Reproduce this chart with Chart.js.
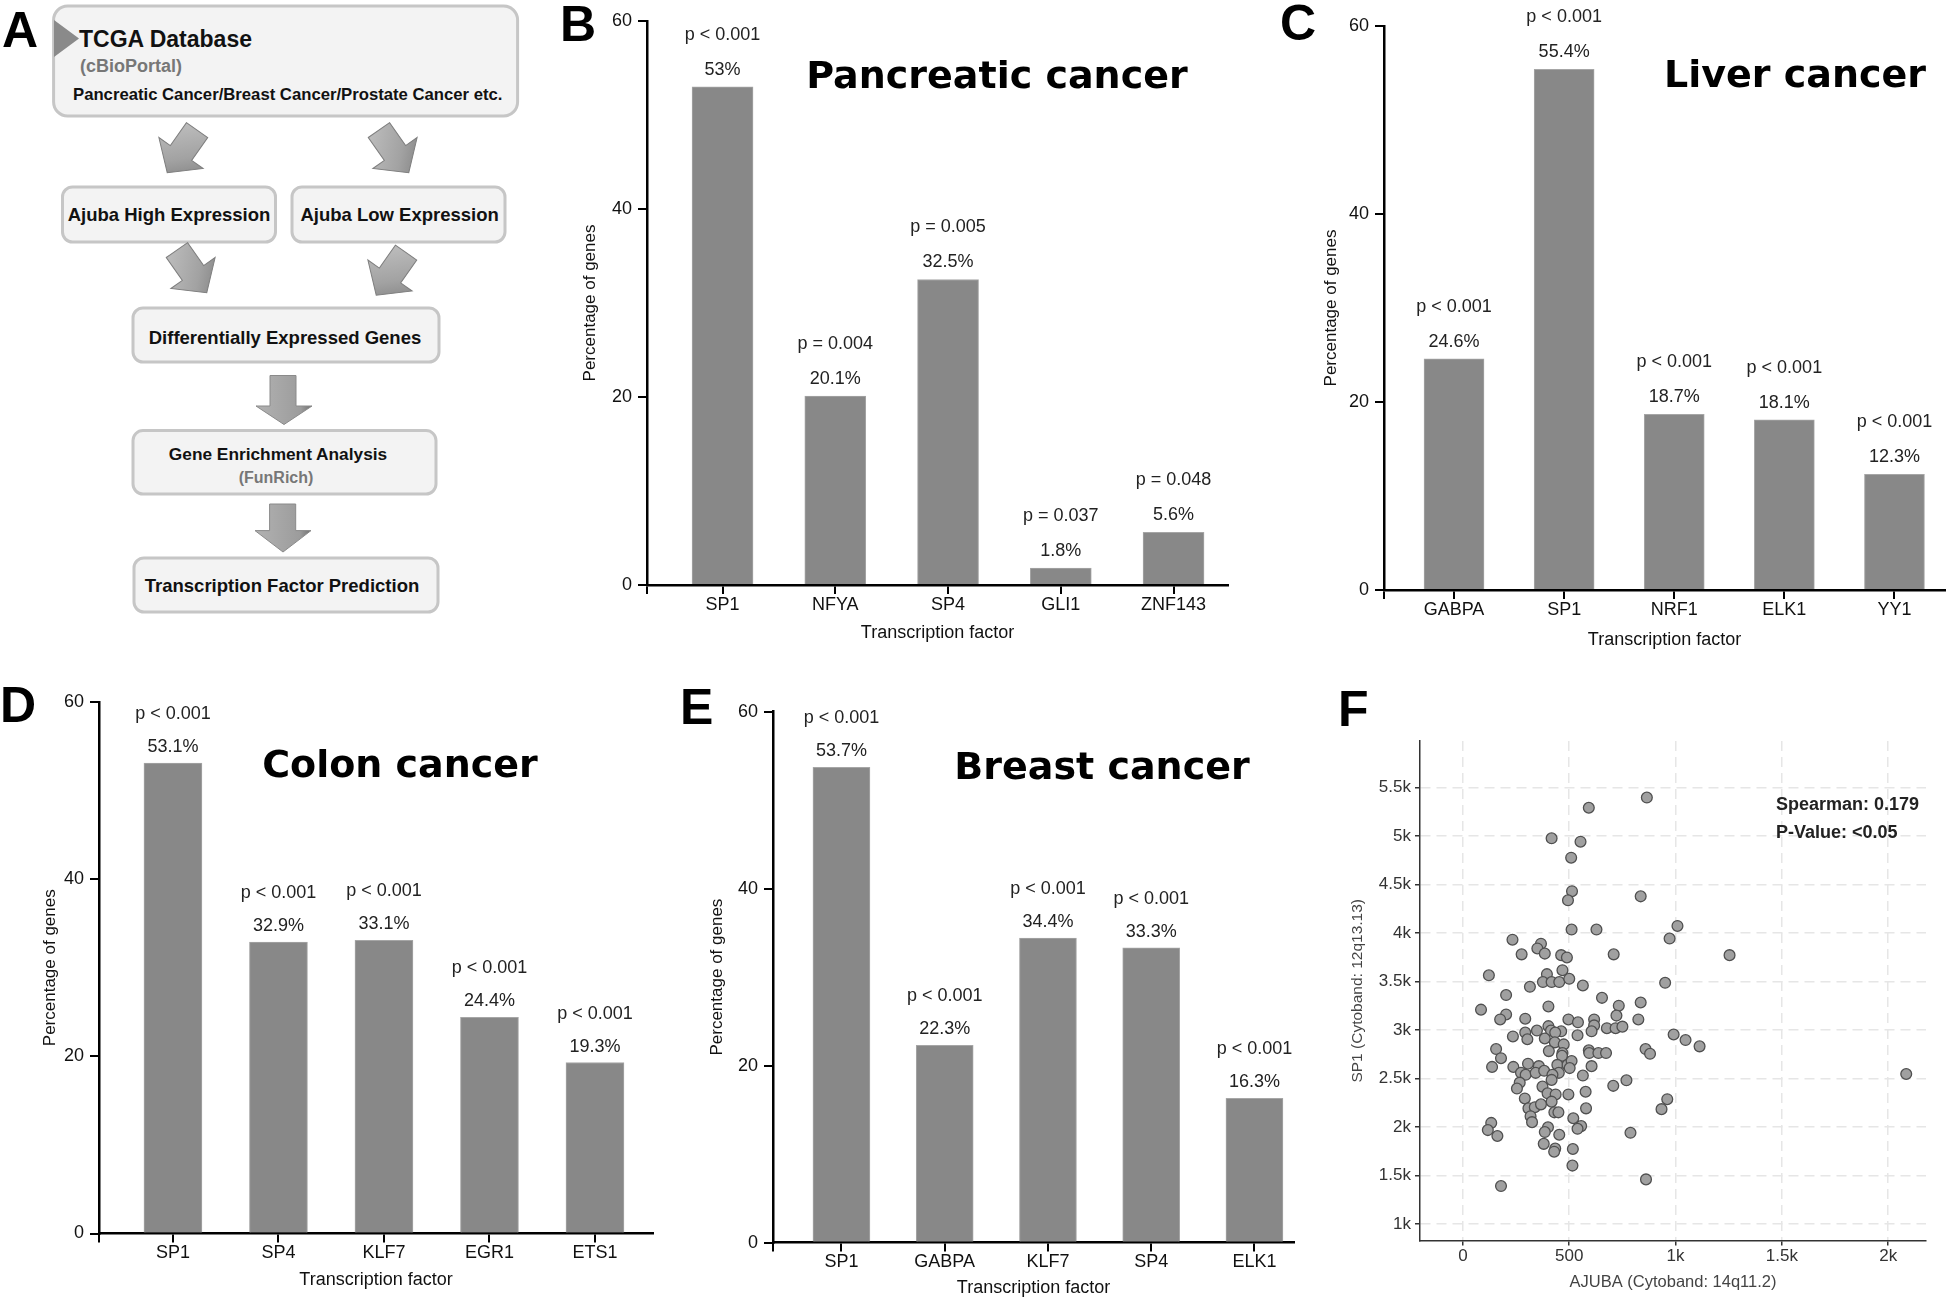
<!DOCTYPE html>
<html>
<head>
<meta charset="utf-8">
<script src="https://cdn.jsdelivr.net/npm/chart.js@4.4.0/dist/chart.umd.min.js"></script>
<style>
body{margin:0;background:#fff;}
#fig{position:relative;width:1946px;height:1299px;overflow:hidden;background:#fff;}
canvas{position:absolute;}
.tag{position:absolute;font:bold 50px "Liberation Sans",Arial,sans-serif;line-height:50px;color:#000;}
.head{position:absolute;width:400px;text-align:center;font:bold 38px "DejaVu Sans",Verdana,sans-serif;line-height:38px;color:#000;white-space:nowrap;}
.note{position:absolute;font:bold 18px "Liberation Sans",Arial,sans-serif;line-height:18px;color:#222;white-space:nowrap;}
</style>
</head>
<body>
<div id="fig">

<svg width="560" height="640" style="position:absolute;left:0;top:0" font-family="Liberation Sans, Arial, sans-serif" font-weight="bold">
  <defs>
    <linearGradient id="ag" x1="0" y1="0" x2="1" y2="1">
      <stop offset="0" stop-color="#c4c4c4"/><stop offset="0.6" stop-color="#a2a2a2"/><stop offset="1" stop-color="#7a7a7a"/>
    </linearGradient>
    <linearGradient id="dg" x1="0" y1="0" x2="1" y2="0">
      <stop offset="0" stop-color="#b2b2b2"/><stop offset="0.8" stop-color="#9c9c9c"/><stop offset="1" stop-color="#707070"/>
    </linearGradient>
    <path id="diag" d="M-13,-28 L13,-28 L13,0 L27,0 L0,24 L-27,0 L-13,0 Z" fill="url(#ag)" stroke="#7e7e7e" stroke-width="1"/>
  </defs>
  <!-- top box -->
  <rect x="53.6" y="6" width="464" height="110" rx="14" fill="#f3f3f3" stroke="#c6c6c6" stroke-width="3"/>
  <polygon points="54,20 79,38.5 54,57" fill="#8a8a8a"/>
  <text x="79" y="47" font-size="23" fill="#111">TCGA Database</text>
  <text x="80" y="71.5" font-size="18" fill="#777">(cBioPortal)</text>
  <text x="73" y="100" font-size="16.7" fill="#111">Pancreatic Cancer/Breast Cancer/Prostate Cancer etc.</text>
  <!-- diagonal arrows row 1 -->
  <use href="#diag" transform="translate(181,153) rotate(35)"/>
  <use href="#diag" transform="translate(395,153) rotate(-35)"/>
  <!-- ajuba boxes -->
  <rect x="62.5" y="187" width="213" height="55" rx="10" fill="#f3f3f3" stroke="#c6c6c6" stroke-width="3"/>
  <text x="169" y="220.6" font-size="18.5" fill="#111" text-anchor="middle">Ajuba High Expression</text>
  <rect x="292" y="187" width="213" height="55" rx="10" fill="#f3f3f3" stroke="#c6c6c6" stroke-width="3"/>
  <text x="399.6" y="220.6" font-size="18.5" fill="#111" text-anchor="middle">Ajuba Low Expression</text>
  <!-- diagonal arrows row 2 -->
  <use href="#diag" transform="translate(193,273) rotate(-35)"/>
  <use href="#diag" transform="translate(390,275.5) rotate(35)"/>
  <!-- DEG -->
  <rect x="133" y="308" width="306" height="54" rx="10" fill="#f3f3f3" stroke="#c6c6c6" stroke-width="3"/>
  <text x="285" y="343.6" font-size="18.5" fill="#111" text-anchor="middle">Differentially Expressed Genes</text>
  <path d="M270,375.5 L296,375.5 L296,406 L312,406 L284,424.5 L256,406 L270,406 Z" fill="url(#dg)" stroke="#8a8a8a" stroke-width="1"/>
  <!-- GEA -->
  <rect x="133" y="430.6" width="303" height="63.4" rx="10" fill="#f3f3f3" stroke="#c6c6c6" stroke-width="3"/>
  <text x="278" y="459.6" font-size="17.3" fill="#111" text-anchor="middle">Gene Enrichment Analysis</text>
  <text x="276" y="483" font-size="16" fill="#777" text-anchor="middle">(FunRich)</text>
  <path d="M269.6,504 L295.7,504 L295.7,530.6 L311,530.6 L283,552 L255,530.6 L269.6,530.6 Z" fill="url(#dg)" stroke="#8a8a8a" stroke-width="1"/>
  <!-- TFP -->
  <rect x="134" y="558" width="304" height="54" rx="10" fill="#f3f3f3" stroke="#c6c6c6" stroke-width="3"/>
  <text x="282" y="591.6" font-size="18.5" fill="#111" text-anchor="middle">Transcription Factor Prediction</text>
</svg>

<canvas id="cB" width="680" height="660" style="left:560px;top:0px"></canvas>
<canvas id="cC" width="666" height="660" style="left:1280px;top:0px"></canvas>
<canvas id="cD" width="680" height="619" style="left:0px;top:680px"></canvas>
<canvas id="cE" width="640" height="619" style="left:680px;top:680px"></canvas>
<canvas id="cF" width="626" height="619" style="left:1320px;top:680px"></canvas>

<div class="tag" style="left:2px;top:5px">A</div>
<div class="tag" style="left:560px;top:-1px">B</div>
<div class="tag" style="left:1280px;top:-2px">C</div>
<div class="tag" style="left:0px;top:680px">D</div>
<div class="tag" style="left:680px;top:682px">E</div>
<div class="tag" style="left:1338px;top:684px">F</div>

<div class="head" style="left:797px;top:56px">Pancreatic cancer</div>
<div class="head" style="left:1595px;top:55px">Liver cancer</div>
<div class="head" style="left:200px;top:745px">Colon cancer</div>
<div class="head" style="left:902px;top:747px">Breast cancer</div>

<div class="note" style="left:1776px;top:795px">Spearman: 0.179</div>
<div class="note" style="left:1776px;top:823px">P-Value: &lt;0.05</div>
</div>

<script>
// B - pancreatic
const pancNames = ['SP1', 'NFYA', 'SP4', 'GLI1', 'ZNF143']
const pancValues = [53, 20.1, 32.5, 1.8, 5.6]
const pancP = ['p < 0.001', 'p = 0.004', 'p = 0.005', 'p = 0.037', 'p = 0.048']
// C - liver
const liverNames = ['GABPA', 'SP1', 'NRF1', 'ELK1', 'YY1']
const liverValues = [24.6, 55.4, 18.7, 18.1, 12.3]
const liverP = ['p < 0.001', 'p < 0.001', 'p < 0.001', 'p < 0.001', 'p < 0.001']
// D - colon
const colonNames = ['SP1', 'SP4', 'KLF7', 'EGR1', 'ETS1']
const colonValues = [53.1, 32.9, 33.1, 24.4, 19.3]
const colonP = ['p < 0.001', 'p < 0.001', 'p < 0.001', 'p < 0.001', 'p < 0.001']
// E - breast
const breastNames = ['SP1', 'GABPA', 'KLF7', 'SP4', 'ELK1']
const breastValues = [53.7, 22.3, 34.4, 33.3, 16.3]
const breastP = ['p < 0.001', 'p < 0.001', 'p < 0.001', 'p < 0.001', 'p < 0.001']
const pctTicks = [0, 20, 40, 60]

// F - scatter, AJUBA vs SP1 expression
const ajubaX = [865,592,417,553,509,513,494,836,511,628,1009,972,233,367,350,276,385,462,489,709,1254,122,468,395,376,417,453,500,315,564,951,203,654,836,733,402,85,203,175,293,496,541,617,722,825,617,402,677,718,750,348,414,462,434,605,235,293,303,385,432,474,539,991,1047,1113,156,179,404,468,466,592,594,637,673,859,880,137,237,306,357,444,492,511,605,273,295,342,382,451,421,564,769,2085,267,417,254,374,707,291,398,436,496,577,417,961,308,338,367,430,449,579,934,318,325,519,133,117,400,385,556,539,162,453,788,380,434,429,517,515,861,179,502]
const sp1Y = [5395,5290,4975,4940,4775,4430,4336,4377,4035,4035,4072,3942,3930,3889,3840,3779,3787,3771,3747,3779,3771,3563,3616,3575,3494,3494,3494,3527,3445,3458,3486,3360,3331,3283,3250,3242,3209,3160,3108,3116,3108,3079,3108,3148,3108,3047,3039,3018,3018,3034,2994,2994,2986,2973,2986,2933,2973,2904,2912,2872,2851,2945,2953,2896,2831,2803,2709,2782,2762,2733,2790,2762,2762,2762,2803,2754,2619,2619,2652,2627,2640,2640,2680,2627,2558,2538,2558,2579,2558,2538,2530,2481,2546,2457,2485,2396,2416,2424,2294,2347,2335,2335,2363,2261,2286,2192,2204,2233,2151,2151,2192,2184,2111,2050,2090,2042,1968,1997,1948,2009,1981,1907,1920,1940,1826,1777,1745,1773,1602,1460,1391,2607]
const ajubaTicks = [0, 500, 1000, 1500, 2000]
const sp1Ticks = [1000, 1500, 2000, 2500, 3000, 3500, 4000, 4500, 5000, 5500]

Chart.defaults.font.family = '"Liberation Sans", Arial, sans-serif'
Chart.defaults.color = '#111'

// percent + p value written over each bar
const barNotes = {
  id: 'barNotes',
  afterDatasetsDraw(chart, args, opts) {
    const ctx = chart.ctx
    const bars = chart.getDatasetMeta(0).data
    ctx.save()
    ctx.font = '18px "Liberation Sans", Arial, sans-serif'
    ctx.fillStyle = '#222'
    ctx.textAlign = 'center'
    ctx.textBaseline = 'middle'
    bars.forEach((bar, i) => {
      ctx.fillText(opts.values[i] + '%', bar.x, bar.y - opts.g1)
      ctx.fillText(opts.pvals[i], bar.x, bar.y - opts.g2)
    })
    ctx.restore()
  }
}

function barChart(id, names, values, pvals, o) {
  const axisGrid = {drawOnChartArea: false, color: '#000', lineWidth: 2, tickLength: 9, offset: false}
  // a tick at the left corner, then one under each bar
  const xTicks = [o.xmin].concat(names.map((n, i) => i))
  return new Chart(document.getElementById(id), {
    type: 'bar',
    data: {
      datasets: [{
        data: values.map((v, i) => ({x: i, y: v})),
        backgroundColor: '#888888',
        borderColor: '#a6a6a6',
        borderWidth: {top: 1, left: 1, right: 1, bottom: 0},
        barThickness: o.bw
      }]
    },
    options: {
      responsive: false,
      animation: false,
      devicePixelRatio: 1,
      layout: {padding: {top: o.pt, right: o.pr, left: 0, bottom: 0}},
      plugins: {
        legend: {display: false},
        tooltip: {enabled: false},
        barNotes: {values: values, pvals: pvals, g1: o.g1, g2: o.g2}
      },
      scales: {
        x: {
          type: 'linear', offset: false, min: o.xmin, max: o.xmax,
          afterFit: s => { s.height = o.xh },
          afterBuildTicks: s => { s.ticks = xTicks.map(v => ({value: v})) },
          ticks: {maxRotation: 0, autoSkip: false, padding: 0, color: '#111', font: {size: 18},
                  callback: v => Number.isInteger(v) ? names[v] : ''},
          grid: axisGrid,
          border: {color: '#000', width: 2.5},
          title: {display: true, text: 'Transcription factor', color: '#111', font: {size: 18}, padding: {top: 0, bottom: o.xtp}}
        },
        y: {
          min: 0, max: 60,
          afterFit: s => { s.width = o.yw },
          afterBuildTicks: s => { s.ticks = pctTicks.map(v => ({value: v})) },
          ticks: {padding: 6, color: '#111', font: {size: 18}},
          grid: axisGrid,
          border: {color: '#000', width: 2.5},
          title: {display: true, text: 'Percentage of genes', color: '#111', font: {size: 17}, padding: {top: o.ytp, bottom: 0}}
        }
      }
    },
    plugins: [barNotes]
  })
}

barChart('cB', pancNames, pancValues, pancP,
  {bw: 61, xmin: -0.67, xmax: 4.483, yw: 87, xh: 75, pt: 21, pr: 12, ytp: 20, xtp: 16, g1: 17, g2: 52})
barChart('cC', liverNames, liverValues, liverP,
  {bw: 60, xmin: -0.636, xmax: 4.459, yw: 104, xh: 70, pt: 26, pr: 1, ytp: 41, xtp: 9, g1: 17, g2: 52})
barChart('cD', colonNames, colonValues, colonP,
  {bw: 58, xmin: -0.701, xmax: 4.55, yw: 99, xh: 65.5, pt: 22, pr: 27, ytp: 40, xtp: 8, g1: 16, g2: 49})
barChart('cE', breastNames, breastValues, breastP,
  {bw: 57, xmin: -0.663, xmax: 4.383, yw: 93, xh: 56.4, pt: 31.6, pr: 26, ytp: 27, xtp: 0, g1: 16, g2: 49})

function fmtK(v) {
  return v < 1000 ? String(v) : (v / 1000) + 'k'
}

const scatGrid = {color: '#e6e6e6', lineWidth: 1.5, tickColor: '#333', tickLength: 5, tickBorderDash: []}
new Chart(document.getElementById('cF'), {
  type: 'scatter',
  data: {
    datasets: [{
      data: ajubaX.map((x, i) => ({x: x, y: sp1Y[i]})),
      pointRadius: 5.4,
      backgroundColor: '#a0a0a0',
      borderColor: '#505050',
      borderWidth: 1.3
    }]
  },
  options: {
    responsive: false,
    animation: false,
    devicePixelRatio: 1,
    layout: {padding: {top: 61, right: 20, left: 0, bottom: 0}},
    plugins: {legend: {display: false}, tooltip: {enabled: false}},
    scales: {
      x: {
        type: 'linear', min: -202, max: 2178,
        afterFit: s => { s.height = 58.4 },
        afterBuildTicks: s => { s.ticks = ajubaTicks.map(v => ({value: v})) },
        ticks: {padding: 1, color: '#333', font: {size: 17}, maxRotation: 0, autoSkip: false, callback: fmtK},
        grid: scatGrid,
        border: {color: '#333', width: 1.5, dash: [10, 6]},
        title: {display: true, text: 'AJUBA (Cytoband: 14q11.2)', color: '#444', font: {size: 16.5}, padding: {top: 0, bottom: 7}}
      },
      y: {
        type: 'linear', min: 829, max: 5978,
        afterFit: s => { s.width = 100 },
        afterBuildTicks: s => { s.ticks = sp1Ticks.map(v => ({value: v})) },
        ticks: {padding: 4, color: '#333', font: {size: 17}, autoSkip: false, callback: fmtK},
        grid: scatGrid,
        border: {color: '#333', width: 1.5, dash: [10, 6]},
        title: {display: true, text: 'SP1 (Cytoband: 12q13.13)', color: '#444', font: {size: 15.5}, padding: {top: 28, bottom: 0}}
      }
    }
  }
})
</script>
</body>
</html>
